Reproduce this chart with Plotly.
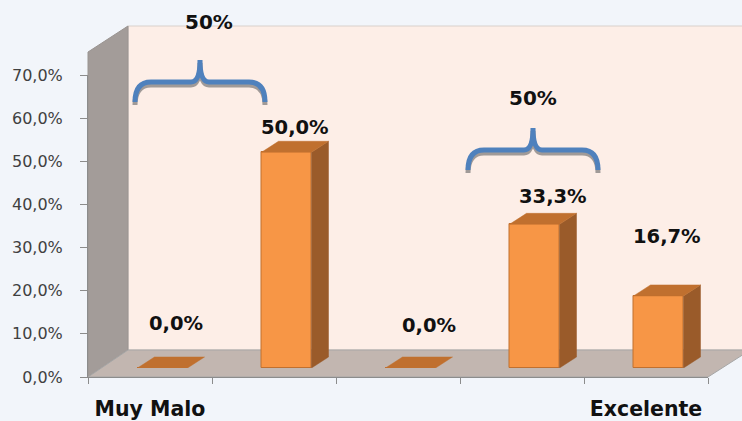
import plotly.graph_objects as go

# ---- data ----
categories = ["Muy Malo", "Malo", "Regular", "Bueno", "Excelente"]
tick_labels = ["Muy Malo", "", "", "", "Excelente"]
values = [0.0, 0.5, 0.0, 0.333, 0.167]
groups = [[0, 1], [3, 4]]          # bars joined by a brace
y_ticks = [0.0, 0.1, 0.2, 0.3, 0.4, 0.5, 0.6, 0.7]

# ---- styles / geometry (pixels) ----
W, H = 742, 421
def px(x): return x / W
def py(y): return 1 - y / H

AX_L, AX_R, AX_B, AX_T = 88, 708, 377, 75      # front plane of axes
DEPTH_X, DEPTH_Y = 40, 27                        # full 3D depth
BAR_SHIFT_X, BAR_SHIFT_Y = 12.5, 9               # bars sit inside the floor
cat_px = (AX_R - AX_L) / len(categories)
unit_px = (AX_B - AX_T) / 0.7
bar_w = 50 / cat_px
dx, dy = 17 / cat_px, 11 / unit_px

lab_xshift = [13, 8, 18, 18, 8]
lab_yshift = [45, 25, 43, 28, 59]

BG = "#F2F5FA"
FRONT, SIDE, TOP = "#F79646", "#9A5B2A", "#C0702F"

fig = go.Figure()

# front faces
fig.add_trace(go.Bar(
    x=list(range(len(values))), y=values, width=bar_w,
    marker=dict(color=FRONT, line=dict(color="#C0702F", width=1)),
    xaxis="x2", yaxis="y2", hoverinfo="skip", showlegend=False))

# side faces and top faces
sx, sy, tx, ty = [], [], [], []
for i, v in enumerate(values):
    r = i + bar_w / 2
    l = i - bar_w / 2
    if v > 0:
        sx += [r, r + dx, r + dx, r, r, None]
        sy += [0, dy, v + dy, v, 0, None]
    tx += [l, r, r + dx, l + dx, l, None]
    ty += [v, v, v + dy, v + dy, v, None]
fig.add_trace(go.Scatter(x=sx, y=sy, fill="toself", fillcolor=SIDE, mode="lines",
                         line=dict(color=SIDE, width=0.5), xaxis="x2", yaxis="y2",
                         hoverinfo="skip", showlegend=False))
fig.add_trace(go.Scatter(x=tx, y=ty, fill="toself", fillcolor=TOP, mode="lines",
                         line=dict(color=TOP, width=0.5), xaxis="x2", yaxis="y2",
                         hoverinfo="skip", showlegend=False))

# invisible trace to anchor main axes
fig.add_trace(go.Scatter(x=categories, y=[None] * len(categories), mode="markers",
                         hoverinfo="skip", showlegend=False))

shapes = []
def poly(pts, fill, line="#A6A6A6", layer="below", width=1):
    d = "M " + " L ".join(f"{px(x):.5f},{py(y):.5f}" for x, y in pts) + " Z"
    shapes.append(dict(type="path", path=d, xref="paper", yref="paper",
                       fillcolor=fill, line=dict(color=line, width=width), layer=layer))

TOPY = 52
# back wall
poly([(AX_L + DEPTH_X, TOPY - 26), (W + 2, TOPY - 26), (W + 2, AX_B - DEPTH_Y),
      (AX_L + DEPTH_X, AX_B - DEPTH_Y)], "#FDEEE7", line="#D9D0CC")
# left wall
poly([(AX_L, AX_B), (AX_L, TOPY), (AX_L + DEPTH_X, TOPY - 26),
      (AX_L + DEPTH_X, AX_B - DEPTH_Y)], "#A39C99", line="#9A9491")
# floor
poly([(AX_L, AX_B), (AX_L + DEPTH_X, AX_B - DEPTH_Y), (W + 2, AX_B - DEPTH_Y),
      (W + 2, AX_B - 23), (AX_R, AX_B)], "#C2B6B0", line="#A6A6A6")

# braces
def brace(xl, xr, ybot, ymid, ytop, color, width, off=0):
    xc = (xl + xr) / 2
    P = lambda x, y: f"{px(x):.5f},{py(y + off):.5f}"
    d = (f"M {P(xl, ybot)} Q {P(xl, ymid)} {P(xl + 16, ymid)} L {P(xc - 9, ymid)} "
         f"Q {P(xc, ymid)} {P(xc, ytop)} Q {P(xc, ymid)} {P(xc + 9, ymid)} "
         f"L {P(xr - 16, ymid)} Q {P(xr, ymid)} {P(xr, ybot)}")
    shapes.append(dict(type="path", path=d, xref="paper", yref="paper",
                       line=dict(color=color, width=width), layer="above"))

brace_geo = [(135, 265, 102, 82, 60, 209, 22), (468, 598, 170, 150, 128, 533, 98)]
annotations = []
for g, (xl, xr, yb, ym, yt, tx_, ty_) in zip(groups, brace_geo):
    brace(xl, xr, yb, ym, yt, "#A09A98", 5, off=3)
    brace(xl, xr, yb, ym, yt, "#4F81BD", 5)
    total = sum(values[i] for i in g)
    annotations.append(dict(x=px(tx_), y=py(ty_), xref="paper", yref="paper",
                            xanchor="center", yanchor="middle",
                            text=f"{total:.0%}", showarrow=False,
                            font=dict(family="DejaVu Sans", size=20, color="#111111", weight="bold")))

for i, v in enumerate(values):
    annotations.append(dict(x=i, y=v, xref="x2", yref="y2",
                            xanchor="center", yanchor="middle",
                            text=f"{v * 100:.1f}".replace(".", ",") + "%",
                            showarrow=False, xshift=lab_xshift[i], yshift=lab_yshift[i],
                            font=dict(family="DejaVu Sans", size=19.5, color="#111111", weight="bold")))

fig.update_layout(
    width=W, height=H, margin=dict(l=0, r=0, t=0, b=0, autoexpand=False),
    paper_bgcolor=BG, plot_bgcolor="rgba(0,0,0,0)",
    separators=",.", shapes=shapes, annotations=annotations, bargap=0,
    xaxis=dict(domain=[px(AX_L), px(AX_R)], type="category", categoryorder="array",
               categoryarray=categories, tickvals=categories, ticktext=tick_labels,
               range=[-0.5, len(categories) - 0.5], tickangle=0,
               tickson="boundaries", ticks="outside", ticklen=6, tickcolor="#8C8C8C",
               showline=True, linecolor="#8C8C8C", linewidth=1, showgrid=False,
               zeroline=False, ticklabelstandoff=13, automargin=False,
               tickfont=dict(family="DejaVu Sans", size=20.5, color="#111111", weight="bold")),
    yaxis=dict(domain=[py(AX_B), py(AX_T)], range=[0, 0.7], tickvals=y_ticks,
               tickformat=".1%", ticks="outside", ticklen=7, tickcolor="#8C8C8C",
               showline=True, linecolor="#8C8C8C", linewidth=1, showgrid=False,
               zeroline=False, ticklabelstandoff=14, automargin=False,
               tickfont=dict(family="DejaVu Sans", size=16, color="#404040")),
    xaxis2=dict(domain=[px(AX_L + BAR_SHIFT_X), px(AX_R + BAR_SHIFT_X)],
                range=[-0.5, len(categories) - 0.5], anchor="y2",
                visible=False, automargin=False),
    yaxis2=dict(domain=[py(AX_B - BAR_SHIFT_Y), py(AX_T - BAR_SHIFT_Y)],
                range=[0, 0.7], anchor="x2", visible=False,
                automargin=False),
)

fig.write_html("out.html", config={"displayModeBar": False},
               post_script="document.body.style.margin='0px';")
